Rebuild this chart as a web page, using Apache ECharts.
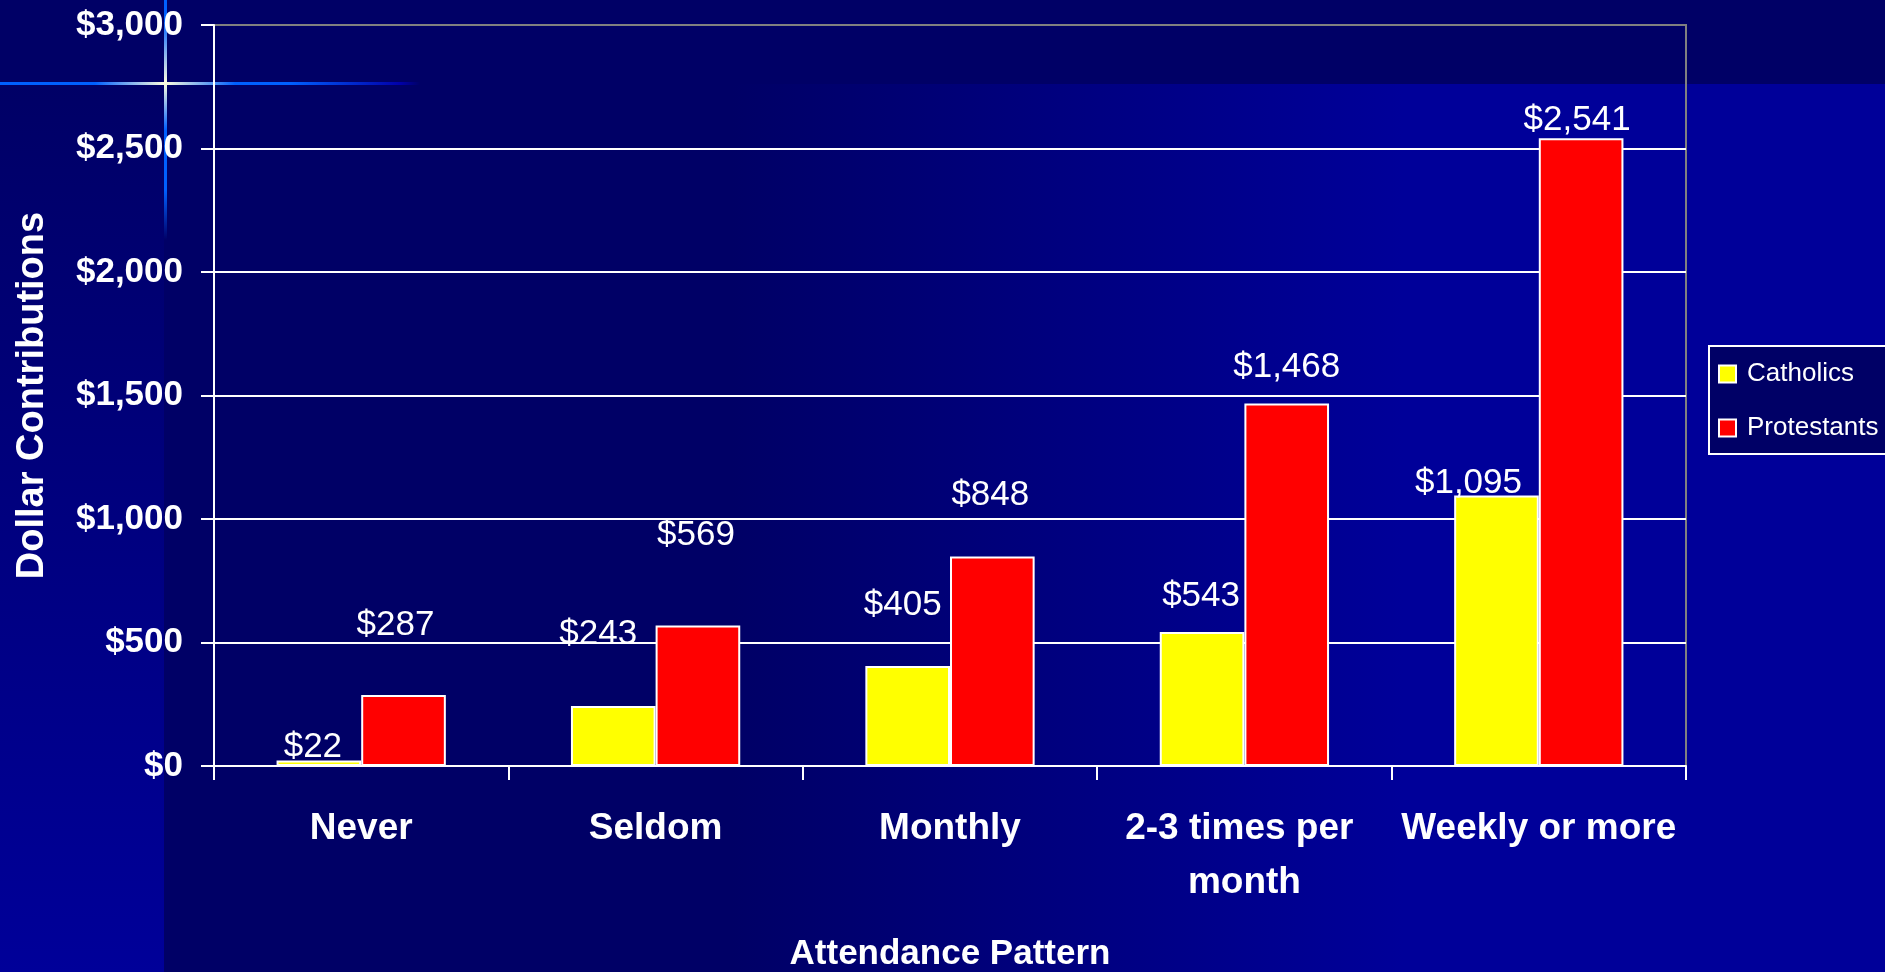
<!DOCTYPE html>
<html>
<head>
<meta charset="utf-8">
<script src="https://cdn.jsdelivr.net/npm/echarts@6/dist/echarts.min.js"></script>
<style>
  html, body { margin: 0; padding: 0; width: 1885px; height: 972px; overflow: hidden; background: #000066; }
  #bgLeft { position: absolute; left: 0; top: 84px; width: 164px; height: 888px;
    background: linear-gradient(to bottom, #000066 0%, #000099 100%); }
  #bgMain { position: absolute; left: 164px; top: 84px; width: 1721px; height: 888px;
    background: linear-gradient(to right, #000066 0%, #000066 33%, #000099 72%, #000099 100%); }
  #hLine { position: absolute; left: 0; top: 82px; width: 420px; height: 3px;
    background: linear-gradient(to right, #0060ff 0px, #0060ff 95px, #ffffe0 165px, #0060ff 235px, #0060ff 290px, #0000aa 400px, rgba(0,0,170,0) 420px); }
  #vLine { position: absolute; left: 164px; top: 0; width: 3px; height: 240px;
    background: linear-gradient(to bottom, #0060ff 0px, #0060ff 20px, #ffffe0 83px, #0060ff 130px, #0060ff 190px, rgba(0,96,255,0) 240px); }
  #chart { position: absolute; left: 0; top: 0; width: 1885px; height: 972px; }
</style>
</head>
<body>
<div id="bgLeft"></div>
<div id="bgMain"></div>
<div id="hLine"></div>
<div id="vLine"></div>
<div id="chart"></div>
<script>
// ---- data ----
const categories = ['Never', 'Seldom', 'Monthly', '2-3 times per month', 'Weekly or more'];
const seriesNames = ['Catholics', 'Protestants'];
const catholics = [22, 243, 405, 543, 1095];
const protestants = [287, 569, 848, 1468, 2541];
const yMin = 0, yMax = 3000, yStep = 500;

// ---- styling (label nudges: [dx, height of label centre above bar top]) ----
const FONT = "'Liberation Sans', Arial, sans-serif";
const LABEL_LH = 36;
const GLYPH_SHIFT = 2; // cap-centre sits a little above the text box centre
const catholicsLabelNudge = [[-6, 15], [-15, 74], [-5, 63], [-1, 38], [-28, 14]];
const protestantsLabelNudge = [[-8, 72], [-2, 92], [-2, 63], [0, 38], [-4, 20]];

function money(v) {
  return '$' + String(v).replace(/\B(?=(\d{3})+(?!\d))/g, ',');
}

function buildData(values, nudges) {
  return values.map((v, i) => ({
    value: v,
    label: { offset: [nudges[i][0], -(nudges[i][1] - LABEL_LH / 2) + GLYPH_SHIFT] }
  }));
}

const labelStyle = {
  show: true,
  position: 'top',
  distance: 0,
  color: '#ffffff',
  fontFamily: FONT,
  fontSize: 35,
  lineHeight: LABEL_LH,
  formatter: p => money(p.value)
};

const chart = echarts.init(document.getElementById('chart'), null, { renderer: 'canvas' });
chart.setOption({
  backgroundColor: 'transparent',
  animation: false,
  grid: {
    left: 214, top: 25, right: 199, bottom: 206,
    outerBoundsMode: 'none',
    containLabel: false,
    show: true, borderColor: '#808080', borderWidth: 2, backgroundColor: 'transparent'
  },
  legend: {
    data: seriesNames,
    orient: 'vertical',
    left: 1709, top: 346,
    backgroundColor: '#000066',
    borderColor: '#ffffff', borderWidth: 2,
    padding: [11, 12, 9, 9],
    itemWidth: 17, itemHeight: 17, itemGap: 20,
    icon: 'rect',
    textStyle: { color: '#ffffff', fontFamily: FONT, fontSize: 26, lineHeight: 30, padding: [4, 0, 0, 6] }
  },
  xAxis: {
    type: 'category',
    data: categories,
    axisLine: { show: true, lineStyle: { color: '#ffffff', width: 2 } },
    axisTick: { show: true, length: 14, lineStyle: { color: '#ffffff', width: 2 } },
    axisLabel: {
      interval: 0, color: '#ffffff', fontFamily: FONT, fontSize: 37, fontWeight: 'bold',
      margin: 36, lineHeight: 54, width: 290, overflow: 'break'
    },
    splitLine: { show: false },
    name: 'Attendance Pattern',
    nameLocation: 'middle',
    nameGap: 170,
    nameTextStyle: { color: '#ffffff', fontFamily: FONT, fontSize: 35, fontWeight: 'bold', lineHeight: 36 }
  },
  yAxis: {
    type: 'value',
    min: yMin, max: yMax, interval: yStep,
    axisLine: { show: true, lineStyle: { color: '#ffffff', width: 2 } },
    axisTick: { show: true, length: 13, lineStyle: { color: '#ffffff', width: 2 } },
    axisLabel: {
      color: '#ffffff', fontFamily: FONT, fontSize: 35, fontWeight: 'bold', margin: 31,
      padding: [8, 0, 0, 0],
      formatter: v => money(v)
    },
    splitLine: { show: true, showMaxLine: false, lineStyle: { color: '#ffffff', width: 2 } },
    name: 'Dollar Contributions',
    nameLocation: 'middle',
    nameGap: 162,
    nameTextStyle: { color: '#ffffff', fontFamily: FONT, fontSize: 38, fontWeight: 'bold', lineHeight: 38 }
  },
  series: [
    {
      name: seriesNames[0], type: 'bar',
      barGap: '0%', barCategoryGap: '42.5%',
      itemStyle: { color: '#ffff00', borderColor: '#ffffff', borderWidth: 2 },
      label: labelStyle,
      data: buildData(catholics, catholicsLabelNudge)
    },
    {
      name: seriesNames[1], type: 'bar',
      barGap: '0%', barCategoryGap: '42.5%',
      itemStyle: { color: '#ff0000', borderColor: '#ffffff', borderWidth: 2 },
      label: labelStyle,
      data: buildData(protestants, protestantsLabelNudge)
    }
  ]
});
</script>
</body>
</html>
